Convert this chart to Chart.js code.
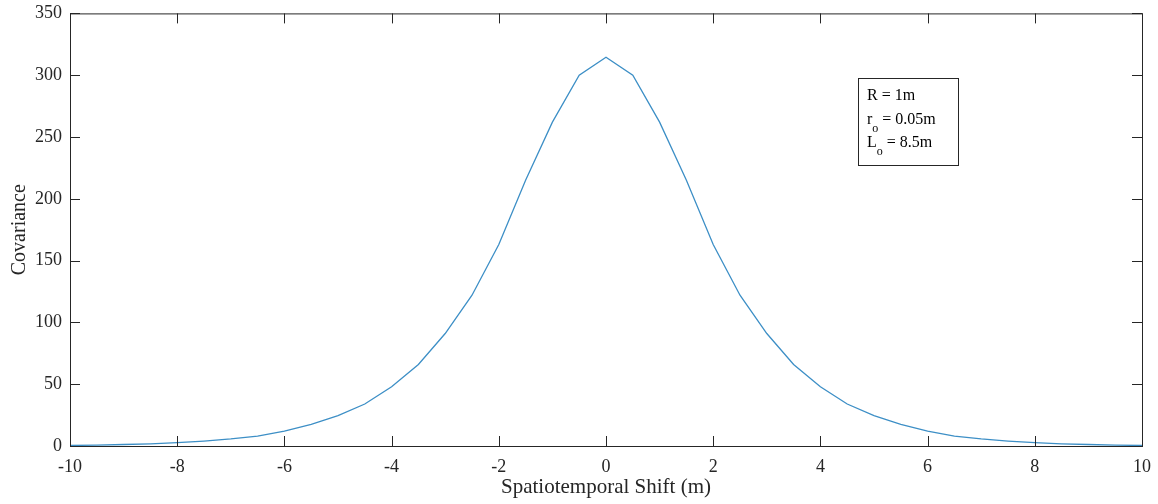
<!DOCTYPE html>
<html>
<head>
<meta charset="utf-8">
<script src="https://cdn.jsdelivr.net/npm/chart.js@4.4.1/dist/chart.umd.min.js"></script>
<style>
  html, body { margin: 0; padding: 0; background: #fff; }
  #wrap { width: 1158px; height: 504px; }
</style>
</head>
<body>
<div id="wrap"><canvas id="covChart" width="1158" height="504"></canvas></div>
<script>
// shift values (m) and covariance
const shifts = [-10, -9.5, -9, -8.5, -8, -7.5, -7, -6.5, -6, -5.5, -5, -4.5, -4, -3.5, -3, -2.5, -2, -1.5, -1, -0.5,
  0, 0.5, 1, 1.5, 2, 2.5, 3, 3.5, 4, 4.5, 5, 5.5, 6, 6.5, 7, 7.5, 8, 8.5, 9, 9.5, 10];
const covariance = [0.4, 0.7, 1.2, 1.8, 2.7, 4, 5.7, 8, 12, 17.5, 24.5, 34, 48, 66, 91, 122, 163, 215, 262, 300,
  314.5, 300, 262, 215, 163, 122, 91, 66, 48, 34, 24.5, 17.5, 12, 8, 5.7, 4, 2.7, 1.8, 1.2, 0.7, 0.4];
const xTicks = [-10, -8, -6, -4, -2, 0, 2, 4, 6, 8, 10];
const yTicks = [0, 50, 100, 150, 200, 250, 300, 350];
const annotLines = [["R", "", " = 1m"], ["r", "o", " = 0.05m"], ["L", "o", " = 8.5m"]];

const serif = "'Liberation Serif', 'Times New Roman', serif";

// box around the axes with inward ticks on all four sides, like MATLAB
const boxPlugin = {
  id: "boxTicks",
  afterDraw(chart) {
    const { ctx, chartArea: a, scales } = chart;
    ctx.save();
    ctx.strokeStyle = "#262626";
    ctx.lineWidth = 1;
    ctx.strokeRect(a.left + 0.5, a.top + 0.5, a.right - a.left, a.bottom - a.top);
    ctx.beginPath();
    xTicks.forEach(v => {
      const px = Math.round(scales.x.getPixelForValue(v)) + 0.5;
      ctx.moveTo(px, a.bottom); ctx.lineTo(px, a.bottom - 10);
      ctx.moveTo(px, a.top); ctx.lineTo(px, a.top + 10);
    });
    yTicks.forEach(v => {
      const py = Math.round(scales.y.getPixelForValue(v)) + 0.5;
      ctx.moveTo(a.left, py); ctx.lineTo(a.left + 10, py);
      ctx.moveTo(a.right, py); ctx.lineTo(a.right - 10, py);
    });
    ctx.stroke();

    // parameter text box
    const bx = 858, by = 78, bw = 100, bh = 87;
    ctx.fillStyle = "#fff";
    ctx.fillRect(bx, by, bw, bh);
    ctx.strokeRect(bx + 0.5, by + 0.5, bw, bh);
    ctx.fillStyle = "#000";
    ctx.textBaseline = "alphabetic";
    annotLines.forEach((ln, i) => {
      const y = by + 22 + i * 23.5;
      let x = bx + 9;
      ctx.font = "16px " + serif;
      ctx.fillText(ln[0], x, y);
      x += ctx.measureText(ln[0]).width;
      if (ln[1]) {
        ctx.font = "12px " + serif;
        ctx.fillText(ln[1], x, y + 8);
        x += ctx.measureText(ln[1]).width;
      }
      ctx.font = "16px " + serif;
      ctx.fillText(ln[2], x, y);
    });
    ctx.restore();
  }
};

new Chart(document.getElementById("covChart"), {
  type: "line",
  data: {
    datasets: [{
      data: shifts.map((s, i) => ({ x: s, y: covariance[i] })),
      borderColor: "#3d8fc6",
      borderWidth: 1.3,
      pointRadius: 0,
      tension: 0,
      fill: false
    }]
  },
  options: {
    responsive: false,
    animation: false,
    layout: { padding: { top: 13, right: 16, left: 0, bottom: 0 } },
    plugins: { legend: { display: false }, tooltip: { enabled: false } },
    scales: {
      x: {
        type: "linear",
        min: -10, max: 10,
        afterBuildTicks: s => { s.ticks = xTicks.map(v => ({ value: v })); },
        afterFit: s => { s.height = 58; s.paddingRight = 0; s.paddingLeft = 0; },
        grid: { display: false, drawTicks: false },
        border: { display: false },
        ticks: { color: "#262626", font: { family: serif, size: 18 }, padding: 10, maxRotation: 0 },
        title: { display: true, text: "Spatiotemporal Shift (m)", color: "#262626", font: { family: serif, size: 21 }, padding: { top: 0, bottom: 4 } }
      },
      y: {
        min: 0, max: 350,
        afterBuildTicks: s => { s.ticks = yTicks.map(v => ({ value: v })); },
        afterFit: s => { s.width = 70; },
        grid: { display: false, drawTicks: false },
        border: { display: false },
        ticks: { color: "#262626", font: { family: serif, size: 18, lineHeight: 0.6 }, padding: 8 },
        title: { display: true, text: "Covariance", color: "#262626", font: { family: serif, size: 20 }, padding: { top: 8, bottom: 0 } }
      }
    }
  },
  plugins: [boxPlugin]
});
</script>
</body>
</html>
